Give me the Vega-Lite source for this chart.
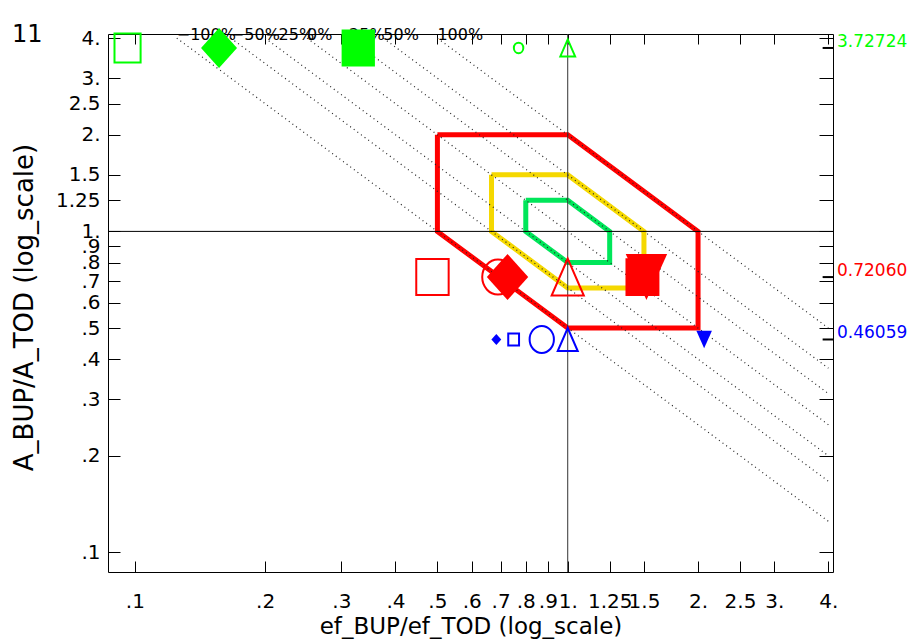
{
  "$schema": "https://vega.github.io/schema/vega-lite/v6.json",
  "autosize": {"type": "none"},
  "padding": {"left": 108, "top": 34, "right": 77, "bottom": 71},
  "width": 725,
  "height": 538,
  "background": "white",
  "config": {
    "view": {"stroke": "black", "strokeWidth": 1},
    "font": "DejaVu Sans"
  },
  "title": {"text": "11", "anchor": "start", "frame": "group", "dx": -96, "dy": 32, "offset": 0, "baseline": "middle", "fontSize": 24, "font": "DejaVu Sans", "fontWeight": "normal", "color": "black"},
  "datasets": {
    "hex": [
      {"ring": "outer", "order": 1, "x": 0.5, "y": 2},
      {"ring": "outer", "order": 2, "x": 1, "y": 2},
      {"ring": "outer", "order": 3, "x": 2, "y": 1},
      {"ring": "outer", "order": 4, "x": 2, "y": 0.5},
      {"ring": "outer", "order": 5, "x": 1, "y": 0.5},
      {"ring": "outer", "order": 6, "x": 0.5, "y": 1},
      {"ring": "outer", "order": 7, "x": 0.5, "y": 2},
      {"ring": "middle", "order": 1, "x": 0.6667, "y": 1.5},
      {"ring": "middle", "order": 2, "x": 1, "y": 1.5},
      {"ring": "middle", "order": 3, "x": 1.5, "y": 1},
      {"ring": "middle", "order": 4, "x": 1.5, "y": 0.6667},
      {"ring": "middle", "order": 5, "x": 1, "y": 0.6667},
      {"ring": "middle", "order": 6, "x": 0.6667, "y": 1},
      {"ring": "middle", "order": 7, "x": 0.6667, "y": 1.5},
      {"ring": "inner", "order": 1, "x": 0.8, "y": 1.25},
      {"ring": "inner", "order": 2, "x": 1, "y": 1.25},
      {"ring": "inner", "order": 3, "x": 1.25, "y": 1},
      {"ring": "inner", "order": 4, "x": 1.25, "y": 0.8},
      {"ring": "inner", "order": 5, "x": 1, "y": 0.8},
      {"ring": "inner", "order": 6, "x": 0.8, "y": 1},
      {"ring": "inner", "order": 7, "x": 0.8, "y": 1.25}
    ],
    "iso": [
      {"pct": "−100%", "x": 0.125, "y": 4}, {"pct": "−100%", "x": 4, "y": 0.125},
      {"pct": "−50%", "x": 0.16667, "y": 4}, {"pct": "−50%", "x": 4, "y": 0.16667},
      {"pct": "−25%", "x": 0.2, "y": 4}, {"pct": "−25%", "x": 4, "y": 0.2},
      {"pct": "0%", "x": 0.25, "y": 4}, {"pct": "0%", "x": 4, "y": 0.25},
      {"pct": "25%", "x": 0.3125, "y": 4}, {"pct": "25%", "x": 4, "y": 0.3125},
      {"pct": "50%", "x": 0.375, "y": 4}, {"pct": "50%", "x": 4, "y": 0.375},
      {"pct": "100%", "x": 0.5, "y": 4}, {"pct": "100%", "x": 4, "y": 0.5}
    ],
    "pts": [
      {"id": "g_sq_o", "series": "green", "symbol": "square", "style": "open", "x": 0.0962, "y": 3.72724},
      {"id": "g_di_f", "series": "green", "symbol": "diamond", "style": "filled", "x": 0.1565, "y": 3.72724},
      {"id": "g_sq_f", "series": "green", "symbol": "square", "style": "filled", "x": 0.3282, "y": 3.72724},
      {"id": "g_ci_o", "series": "green", "symbol": "circle", "style": "open", "x": 0.77, "y": 3.72724},
      {"id": "g_tu_o", "series": "green", "symbol": "triangle-up", "style": "open", "x": 1.0, "y": 3.72724},
      {"id": "r_sq_o", "series": "red", "symbol": "square", "style": "open", "x": 0.487, "y": 0.7206},
      {"id": "r_ci_o", "series": "red", "symbol": "circle", "style": "open", "x": 0.69, "y": 0.7206},
      {"id": "r_di_f", "series": "red", "symbol": "diamond", "style": "filled", "x": 0.726, "y": 0.7206},
      {"id": "r_tu_o", "series": "red", "symbol": "triangle-up", "style": "open", "x": 1.0, "y": 0.7206},
      {"id": "r_sq_f", "series": "red", "symbol": "square", "style": "filled", "x": 1.488, "y": 0.7206},
      {"id": "r_td_f", "series": "red", "symbol": "triangle-down", "style": "filled", "x": 1.52, "y": 0.7206},
      {"id": "b_di_f", "series": "blue", "symbol": "diamond", "style": "filled", "x": 0.684, "y": 0.46059},
      {"id": "b_sq_o", "series": "blue", "symbol": "square", "style": "open", "x": 0.75, "y": 0.46059},
      {"id": "b_ci_o", "series": "blue", "symbol": "circle", "style": "open", "x": 0.871, "y": 0.46059},
      {"id": "b_tu_o", "series": "blue", "symbol": "triangle-up", "style": "open", "x": 1.0, "y": 0.46059},
      {"id": "b_td_f", "series": "blue", "symbol": "triangle-down", "style": "filled", "x": 2.066, "y": 0.46059}
    ],
    "vals": [
      {"series": "green", "y": 3.72724},
      {"series": "red", "y": 0.7206},
      {"series": "blue", "y": 0.46059}
    ]
  },
  "resolve": {"scale": {"color": "independent", "shape": "independent", "size": "independent"}},
  "layer": [
    {
      "data": {"name": "hex"},
      "mark": {"type": "line", "strokeWidth": 5, "strokeJoin": "miter", "clip": false},
      "encoding": {
        "x": {
          "field": "x", "type": "quantitative",
          "scale": {"type": "log", "domain": [0.0867, 4.1], "nice": false, "zero": false},
          "axis": {
            "orient": "bottom",
            "values": [0.1, 0.2, 0.3, 0.4, 0.5, 0.6, 0.7, 0.8, 0.9, 1, 1.25, 1.5, 2, 2.5, 3, 4],
            "labelExpr": "datum.value < 1 ? substring(format(datum.value, '.1f'), 1) : ((datum.value == 1.25 || datum.value == 1.5 || datum.value == 2.5) ? ('' + datum.value) : (format(datum.value, 'd') + '.'))",
            "labelOverlap": false, "labelFlush": false,
            "labelFont": "DejaVu Sans", "labelFontSize": 20, "labelColor": "black",
            "tickColor": "black", "tickSize": -11, "tickWidth": 1,
            "labelPadding": 30,
            "domain": false, "grid": false,
            "title": "ef_BUP/ef_TOD (log_scale)",
            "titleFont": "DejaVu Sans", "titleFontSize": 23, "titleFontWeight": "normal", "titleColor": "black",
            "titleBaseline": "middle", "titleY": 54
          }
        },
        "y": {
          "field": "y", "type": "quantitative",
          "scale": {"type": "log", "domain": [0.0869, 4.12], "nice": false, "zero": false},
          "axis": {
            "orient": "left",
            "values": [0.1, 0.2, 0.3, 0.4, 0.5, 0.6, 0.7, 0.8, 0.9, 1, 1.25, 1.5, 2, 2.5, 3, 4],
            "labelExpr": "datum.value < 1 ? substring(format(datum.value, '.1f'), 1) : ((datum.value == 1.25 || datum.value == 1.5 || datum.value == 2.5) ? ('' + datum.value) : (format(datum.value, 'd') + '.'))",
            "labelOverlap": false, "labelFlush": false,
            "labelFont": "DejaVu Sans", "labelFontSize": 20, "labelColor": "black",
            "labelBaseline": "middle",
            "tickColor": "black", "tickSize": -12, "tickWidth": 1,
            "labelPadding": 20,
            "domain": false, "grid": false,
            "title": "A_BUP/A_TOD (log_scale)",
            "titleFont": "DejaVu Sans", "titleFontSize": 26, "titleFontWeight": "normal", "titleColor": "black",
            "titleAngle": 270, "titleAlign": "center", "titleBaseline": "middle",
            "titleX": -84, "titleY": 273
          }
        },
        "order": {"field": "order", "type": "quantitative"},
        "color": {"field": "ring", "type": "nominal", "scale": {"domain": ["outer", "middle", "inner"], "range": ["#FF0000", "#F5D800", "#00E65A"]}, "legend": null}
      }
    },
    {
      "data": {"name": "iso"},
      "mark": {"type": "line", "strokeWidth": 1.2, "strokeDash": [1, 3.5], "color": "#222222"},
      "encoding": {
        "x": {
          "field": "x", "type": "quantitative",
          "axis": {
            "orient": "top",
            "values": [0.1, 0.2, 0.3, 0.4, 0.5, 0.6, 0.7, 0.8, 0.9, 1, 1.25, 1.5, 2, 2.5, 3, 4],
            "labels": false, "tickColor": "black", "tickSize": -10, "tickWidth": 1,
            "domain": false, "grid": false, "title": null
          }
        },
        "y": {
          "field": "y", "type": "quantitative",
          "axis": {
            "orient": "right",
            "values": [0.1, 0.2, 0.3, 0.4, 0.5, 0.6, 0.7, 0.8, 0.9, 1, 1.25, 1.5, 2, 2.5, 3, 4],
            "labels": false, "tickColor": "black", "tickSize": -14, "tickWidth": 1,
            "domain": false, "grid": false, "title": null
          }
        },
        "detail": {"field": "pct", "type": "nominal"}
      }
    },
    {
      "data": {"values": [{"ref": 1}]},
      "mark": {"type": "rule", "color": "#333333", "strokeWidth": 1},
      "encoding": {"x": {"field": "ref", "type": "quantitative", "axis": null}}
    },
    {
      "data": {"values": [{"ref": 1}]},
      "mark": {"type": "rule", "color": "black", "strokeWidth": 1},
      "encoding": {"y": {"field": "ref", "type": "quantitative", "axis": null}}
    },
    {
      "data": {"name": "iso"},
      "transform": [{"filter": "datum.y == 4"}],
      "mark": {"type": "text", "align": "left", "baseline": "middle", "dy": -3, "font": "DejaVu Sans", "fontSize": 16, "color": "black"},
      "encoding": {
        "x": {"field": "x", "type": "quantitative", "axis": null},
        "y": {"field": "y", "type": "quantitative", "axis": null},
        "text": {"field": "pct", "type": "nominal"}
      }
    },
    {
      "data": {"name": "vals"},
      "mark": {"type": "rule", "color": "black", "strokeWidth": 2},
      "encoding": {
        "x": {"datum": 3.88, "type": "quantitative", "axis": null},
        "x2": {"datum": 4.1},
        "y": {"field": "y", "type": "quantitative", "axis": null}
      }
    },
    {
      "data": {"name": "pts"},
      "transform": [{"filter": "datum.style == 'open'"}],
      "mark": {"type": "point", "filled": false, "strokeWidth": 2, "opacity": 1},
      "encoding": {
        "x": {"field": "x", "type": "quantitative", "axis": null},
        "y": {"field": "y", "type": "quantitative", "axis": null},
        "shape": {"field": "symbol", "type": "nominal", "legend": null, "scale": {"domain": ["square", "diamond", "circle", "triangle-up", "triangle-down"], "range": ["M-0.9,-1H0.9V1H-0.9Z", "M-0.9,0L0,-1L0.9,0L0,1Z", "M0.9,0A0.9,1,0,1,1,-0.9,0A0.9,1,0,1,1,0.9,0Z", "M0,-1L0.87,1L-0.87,1Z", "M0,1L0.9,-1L-0.9,-1Z"]}},
        "color": {"field": "series", "type": "nominal", "legend": null, "scale": {"domain": ["green", "red", "blue"], "range": ["#00FF00", "#FF0000", "#0000FF"]}},
        "size": {"field": "id", "type": "nominal", "legend": null, "scale": {"type": "ordinal", "domain": ["g_sq_o", "g_ci_o", "g_tu_o", "r_sq_o", "r_ci_o", "r_tu_o", "b_sq_o", "b_ci_o", "b_tu_o"], "range": [841, 110, 289, 1296, 1225, 1369, 144, 729, 529]}}
      }
    },
    {
      "data": {"name": "pts"},
      "transform": [{"filter": "datum.style == 'filled'"}],
      "mark": {"type": "point", "filled": true, "opacity": 1},
      "encoding": {
        "x": {"field": "x", "type": "quantitative", "axis": null},
        "y": {"field": "y", "type": "quantitative", "axis": null},
        "shape": {"field": "symbol", "type": "nominal", "legend": null, "scale": {"domain": ["square", "diamond", "circle", "triangle-up", "triangle-down"], "range": ["M-0.9,-1H0.9V1H-0.9Z", "M-0.9,0L0,-1L0.9,0L0,1Z", "M0.9,0A0.9,1,0,1,1,-0.9,0A0.9,1,0,1,1,0.9,0Z", "M0,-1L0.87,1L-0.87,1Z", "M0,1L0.9,-1L-0.9,-1Z"]}},
        "color": {"field": "series", "type": "nominal", "legend": null, "scale": {"domain": ["green", "red", "blue"], "range": ["#00FF00", "#FF0000", "#0000FF"]}},
        "size": {"field": "id", "type": "nominal", "legend": null, "scale": {"type": "ordinal", "domain": ["g_di_f", "g_sq_f", "r_di_f", "r_sq_f", "r_td_f", "b_di_f", "b_td_f"], "range": [1600, 1369, 2116, 1421, 2116, 121, 300]}}
      }
    },
    {
      "data": {"name": "vals"},
      "mark": {"type": "text", "align": "left", "baseline": "middle", "dx": 4, "dy": -6, "font": "DejaVu Sans", "fontSize": 17},
      "encoding": {
        "x": {"datum": 4.1, "type": "quantitative", "axis": null},
        "y": {"field": "y", "type": "quantitative", "axis": null},
        "text": {"field": "y", "type": "quantitative", "format": ".5f"},
        "color": {"field": "series", "type": "nominal", "legend": null, "scale": {"domain": ["green", "red", "blue"], "range": ["#00FF00", "#FF0000", "#0000FF"]}}
      }
    }
  ]
}
